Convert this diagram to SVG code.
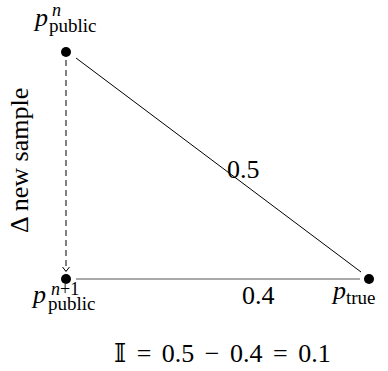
<svg xmlns="http://www.w3.org/2000/svg" width="388" height="371" viewBox="0 0 388 371">
<rect width="388" height="371" fill="#fff"/>
<g id="connectors" fill="none">
<line x1="66" y1="60" x2="66" y2="271" stroke="#000" stroke-width="1" stroke-dasharray="6,4"/>
<path d="M62.5,267 L66,271.5 L69.5,267" stroke="#000" stroke-width="1"/>
<line x1="76" y1="58" x2="361" y2="272" stroke="#000" stroke-width="1"/>
<line x1="76" y1="279" x2="360" y2="279" stroke="#555" stroke-width="1.2"/>
</g>
<g id="p_public_n">
<circle cx="66" cy="52" r="5" fill="#000"/>
<text x="35" y="26" font-size="26" font-style="italic" font-family="Liberation Serif" style="font-family:'Liberation Serif',serif">p</text>
<text x="52" y="16" font-size="18" font-style="italic" font-family="Liberation Serif" style="font-family:'Liberation Serif',serif">n</text>
<text x="49" y="32" font-size="19" font-family="Liberation Serif" style="font-family:'Liberation Serif',serif">public</text>
</g>
<g id="p_public_n1">
<circle cx="66" cy="279" r="5" fill="#000"/>
<text x="33" y="303" font-size="26" font-style="italic" font-family="Liberation Serif" style="font-family:'Liberation Serif',serif">p</text>
<text x="51" y="295" font-size="18" font-family="Liberation Serif" style="font-family:'Liberation Serif',serif"><tspan font-style="italic">n</tspan>+1</text>
<text x="48" y="310" font-size="19" font-family="Liberation Serif" style="font-family:'Liberation Serif',serif">public</text>
</g>
<g id="p_true">
<circle cx="369" cy="279" r="5" fill="#000"/>
<text x="333" y="299" font-size="26" font-style="italic" font-family="Liberation Serif" style="font-family:'Liberation Serif',serif">p</text>
<text x="346" y="304" font-size="19" font-family="Liberation Serif" style="font-family:'Liberation Serif',serif">true</text>
</g>
<g id="labels">
<text x="227" y="178" font-size="26" font-family="Liberation Serif" style="font-family:'Liberation Serif',serif">0.5</text>
<text x="242" y="304" font-size="26" font-family="Liberation Serif" style="font-family:'Liberation Serif',serif">0.4</text>
<g transform="translate(28,233) rotate(-90)">
<text x="0" y="0" font-size="26" font-family="Liberation Serif" style="font-family:'Liberation Serif',serif">Δ new sample</text>
</g>
<text x="114" y="362" font-size="26" word-spacing="4" font-family="Liberation Serif" style="font-family:'Liberation Serif',serif"><tspan font-family="DejaVu Serif" style="font-family:'DejaVu Serif',serif">𝕀</tspan> = 0.5 − 0.4 = 0.1</text>
</g>
</svg>
